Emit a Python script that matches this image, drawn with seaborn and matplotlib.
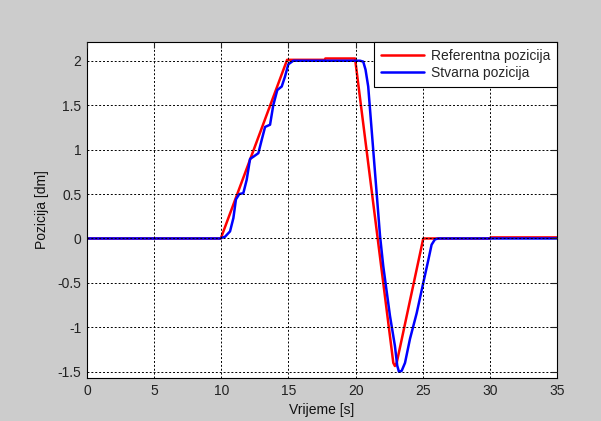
import numpy as np
import pandas as pd
import matplotlib
matplotlib.use("Agg")
import matplotlib.pyplot as plt
import seaborn as sns

# Referentna pozicija (crvena)
ref_t = [0, 9.96, 14.9, 17.7, 17.75, 19.96, 22.81, 22.93, 23.06, 25.04, 30.0, 30.05, 35]
ref_v = [0, 0, 2.01, 2.01, 2.025, 2.025, -1.40, -1.435, -1.40, 0.0, 0.0, 0.012, 0.012]

# Stvarna pozicija (plava)
act_t = [0, 9.9, 10.28, 10.65, 10.9, 11.09, 11.34, 11.64, 11.89, 12.14, 12.39,
         12.76, 13.01, 13.26, 13.63, 13.87, 14.17, 14.5, 14.74, 14.99, 15.36,
         20.33, 20.57, 20.74, 20.94, 21.82, 22.06, 22.56, 22.93, 23.1, 23.23,
         23.43, 23.68, 24.05, 24.55, 25.04, 25.42, 25.66, 25.91, 26.16, 35]
act_v = [0, 0.0, 0.02, 0.08, 0.23, 0.44, 0.50, 0.51, 0.66, 0.895, 0.92,
         0.96, 1.11, 1.255, 1.28, 1.50, 1.67, 1.71, 1.82, 1.96, 2.0,
         2.0, 1.99, 1.90, 1.71, 0.03, -0.31, -0.87, -1.21, -1.43, -1.50,
         -1.49, -1.40, -1.13, -0.84, -0.50, -0.24, -0.07, -0.01, 0.0, 0.0]

x_ticks = [0, 5, 10, 15, 20, 25, 30, 35]
y_ticks = [-1.5, -1, -0.5, 0, 0.5, 1, 1.5, 2]
y_labels = ["-1.5", "-1", "-0.5", "0", "0.5", "1", "1.5", "2"]

df = pd.concat([
    pd.DataFrame({"t": ref_t, "v": ref_v, "serija": "Referentna pozicija"}),
    pd.DataFrame({"t": act_t, "v": act_v, "serija": "Stvarna pozicija"}),
])

sns.set_style("white")
plt.rcParams['font.family'] = ['Liberation Sans', 'DejaVu Sans']

fig = plt.figure(figsize=(6.01, 4.21), dpi=100, facecolor="#cccccc")
ax = fig.add_axes([0.1448, 0.1021, 0.782, 0.798])
ax.set_facecolor("white")

sns.lineplot(data=df, x="t", y="v", hue="serija", sort=False,
             palette={"Referentna pozicija": "#ff0000", "Stvarna pozicija": "#0000ff"},
             linewidth=1.8, ax=ax, estimator=None)

ax.set_xlim(0, 35)
ax.set_ylim(-1.57, 2.21)
ax.set_xticks(x_ticks)
ax.set_xticklabels([str(x) for x in x_ticks])
ax.set_yticks(y_ticks)
ax.set_yticklabels(y_labels)
ax.grid(True, color="black", linestyle=(0, (2, 2)), linewidth=0.7)
ax.set_axisbelow(False)
ax.tick_params(direction="in", length=4, top=True, right=True, labelsize=10,
               colors="#222222", width=0.8, pad=4)
for s in ax.spines.values():
    s.set_color("black")
    s.set_linewidth(0.8)

ax.set_xlabel("Vrijeme [s]", fontsize=10, labelpad=4, color="#111111")
ax.set_ylabel("Pozicija [dm]", fontsize=10, labelpad=6, color="#111111")

leg = ax.legend(loc="upper right", fontsize=10, frameon=True, fancybox=False,
                borderaxespad=0.0, handlelength=3.1, handletextpad=0.45,
                borderpad=0.5, labelspacing=0.2)
leg.get_frame().set_edgecolor("black")
leg.get_frame().set_linewidth(0.8)
leg.get_frame().set_alpha(1)
leg.set_title(None)

fig.savefig("out.png", dpi=100, facecolor=fig.get_facecolor())
